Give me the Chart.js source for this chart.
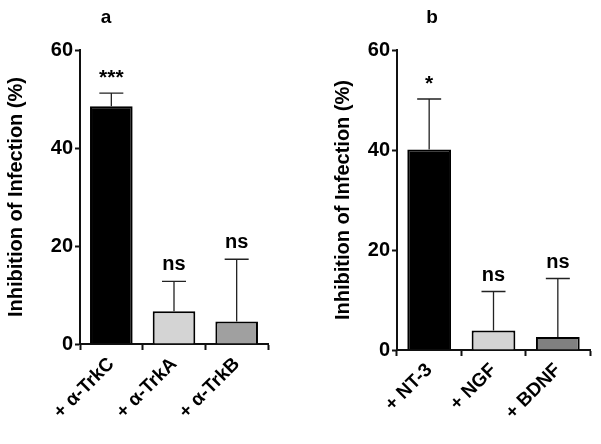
<!DOCTYPE html>
<html lang="en">
<head>
  <meta charset="UTF-8">
  <title>Inhibition of Infection</title>
  <script src="https://cdn.jsdelivr.net/npm/chart.js"></script>
  <style>
    body {
      margin: 0;
      background-color: white;
      font-family: "Liberation Sans", Arial, sans-serif;
    }
    .row {
      display: flex;
      width: 601px;
      height: 444px;
    }
    .panel {
      position: relative;
      height: 444px;
    }
  </style>
</head>
<body>
  <div class="row">
    <div class="panel" style="width:300px"><canvas id="chartA"></canvas></div>
    <div class="panel" style="width:301px"><canvas id="chartB"></canvas></div>
  </div>

  <script>
    // Panel a
    const labelsA = ['+ \u03B1-TrkC', '+ \u03B1-TrkA', '+ \u03B1-TrkB'];
    const meansA = [48.5, 6.7, 4.6];
    const errTopA = [51.2, 12.8, 17.3];
    const sigA = ['***', 'ns', 'ns'];
    const colorsA = ['#000000', '#d4d4d4', '#a0a0a0'];

    // Panel b
    const labelsB = ['+ NT-3', '+ NGF', '+ BDNF'];
    const meansB = [40.1, 3.9, 2.6];
    const errTopB = [50.2, 11.7, 14.3];
    const sigB = ['*', 'ns', 'ns'];
    const colorsB = ['#000000', '#d4d4d4', '#808080'];

    const yTicks = [0, 20, 40, 60];

    const FONT = '"Liberation Sans", Arial, sans-serif';

    // error bars (upper only), significance marks and panel letter
    const extras = {
      id: 'extras',
      afterDatasetsDraw(chart, args, opts) {
        const ctx = chart.ctx;
        const y = chart.scales.y;
        const meta = chart.getDatasetMeta(0);
        ctx.save();
        meta.data.forEach((bar, i) => {
          const top = y.getPixelForValue(opts.errTop[i]);
          ctx.strokeStyle = '#222';
          ctx.lineWidth = 1.3;
          ctx.beginPath();
          ctx.moveTo(bar.x, bar.y);
          ctx.lineTo(bar.x, top);
          ctx.moveTo(bar.x - 12, top);
          ctx.lineTo(bar.x + 12, top);
          ctx.stroke();
          ctx.fillStyle = '#000';
          ctx.textAlign = 'center';
          ctx.textBaseline = 'alphabetic';
          const star = opts.sig[i].indexOf('*') >= 0;
          ctx.font = 'bold ' + (star ? 21 : 20) + 'px ' + FONT;
          ctx.fillText(opts.sig[i], bar.x, top - (star ? 9 : 11));
        });
        ctx.font = 'bold 19px ' + FONT;
        ctx.textAlign = 'center';
        ctx.fillText(opts.letter, opts.letterX, 23);
        ctx.restore();
      }
    };

    function makeChart(id, labels, means, colors, errTop, sig, letter, opt) {
      const ctx = document.getElementById(id).getContext('2d');
      return new Chart(ctx, {
        type: 'bar',
        data: {
          labels: labels,
          datasets: [{
            data: means,
            backgroundColor: colors,
            borderColor: '#000',
            borderWidth: 2,
            borderSkipped: 'bottom',
            barPercentage: 0.68,
            categoryPercentage: 1.0
          }]
        },
        plugins: [extras],
        options: {
          responsive: true,
          maintainAspectRatio: false,
          animation: false,
          layout: { padding: { top: 50, right: opt.right, left: 0, bottom: 0 } },
          plugins: {
            legend: { display: false },
            tooltip: { enabled: false },
            extras: { errTop: errTop, sig: sig, letter: letter, letterX: opt.letterX }
          },
          scales: {
            x: {
              grid: {
                drawOnChartArea: false,
                drawTicks: true,
                tickLength: 6,
                tickWidth: 2,
                tickColor: '#111'
              },
              border: { color: '#111', width: 2 },
              ticks: {
                color: '#000',
                minRotation: 45,
                maxRotation: 45,
                padding: 3,
                font: { family: FONT, size: 19, weight: 'bold' }
              },
              afterFit(scale) { scale.height = opt.xHeight; }
            },
            y: {
              min: 0,
              max: 60,
              afterBuildTicks(scale) {
                scale.ticks = yTicks.map(v => ({ value: v }));
              },
              grid: {
                drawOnChartArea: false,
                drawTicks: true,
                tickLength: 5,
                tickWidth: 2,
                tickColor: '#111'
              },
              border: { color: '#111', width: 2 },
              ticks: {
                color: '#000',
                padding: 2,
                font: { family: FONT, size: 20, weight: 'bold' }
              },
              title: {
                display: true,
                text: 'Inhibition of Infection (%)',
                color: '#000',
                padding: { top: opt.titlePad, bottom: 0 },
                font: { family: FONT, size: 20, weight: 'bold' }
              },
              afterFit(scale) { scale.width = opt.yWidth; }
            }
          }
        }
      });
    }

    makeChart('chartA', labelsA, meansA, colorsA, errTopA, sigA, 'a',
      { right: 32, xHeight: 100, yWidth: 80, titlePad: 4, letterX: 106 });
    makeChart('chartB', labelsB, meansB, colorsB, errTopB, sigB, 'b',
      { right: 11, xHeight: 94, yWidth: 97, titlePad: 31, letterX: 132 });
  </script>
</body>
</html>
